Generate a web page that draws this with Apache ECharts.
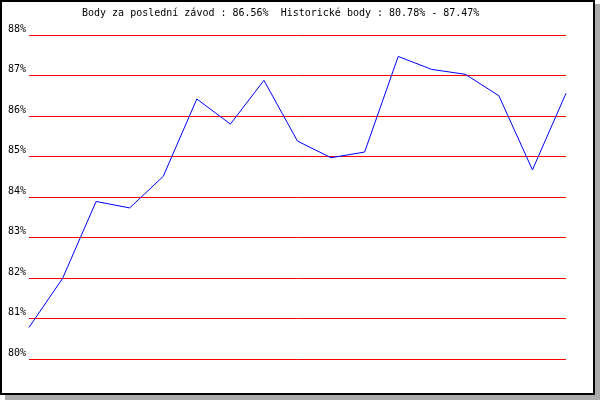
<!DOCTYPE html>
<html>
<head>
<meta charset="utf-8">
<script src="https://cdn.jsdelivr.net/npm/echarts@6/dist/echarts.min.js"></script>
<style>html,body{margin:0;padding:0;background:#fff}#c{width:600px;height:400px}</style>
</head>
<body>
<div id="c"></div>
<script>
var races = ['1','2','3','4','5','6','7','8','9','10','11','12','13','14','15','16','17'];
var points = [80.78, 81.99, 83.89, 83.73, 84.51, 86.42, 85.80, 86.88, 85.38, 84.97, 85.11, 87.47, 87.15, 87.03, 86.50, 84.67, 86.56];
var titleText = 'Body za poslední závod : 86.56%  Historické body : 80.78% - 87.47%';
var yMin = 80, yMax = 88, yStep = 1;

var font = '"DejaVu Sans Mono", monospace';
var chart = echarts.init(document.getElementById('c'), null, {renderer: 'canvas'});
chart.setOption({
  backgroundColor: '#fff',
  animation: false,
  graphic: [
    {type: 'rect', z: -10, silent: true, shape: {x: 5, y: 4, width: 595, height: 396}, style: {fill: '#aaaaaa'}},
    {type: 'rect', z: -9, silent: true, shape: {x: 1, y: 1, width: 593, height: 393}, style: {fill: '#fff', stroke: '#000', lineWidth: 2}}
  ],
  title: {
    text: titleText,
    left: 82, top: 8,
    padding: 0,
    textStyle: {fontFamily: font, fontSize: 10, fontWeight: 'normal', color: '#000'}
  },
  grid: {left: 29, right: 34, top: 35, bottom: 41},
  xAxis: {
    type: 'category', data: races, boundaryGap: false, show: false
  },
  yAxis: {
    type: 'value', min: yMin, max: yMax, interval: yStep,
    axisLine: {show: false}, axisTick: {show: false},
    axisLabel: {
      formatter: '{value}%', fontFamily: font, fontSize: 10, color: '#000',
      margin: 3, verticalAlign: 'bottom', padding: [0, 0, 1, 0]
    },
    splitLine: {lineStyle: {color: '#ff0000', width: 1}}
  },
  series: [{
    type: 'line', data: points, symbol: 'none',
    lineStyle: {color: '#0000ff', width: 1}
  }]
});
</script>
</body>
</html>
